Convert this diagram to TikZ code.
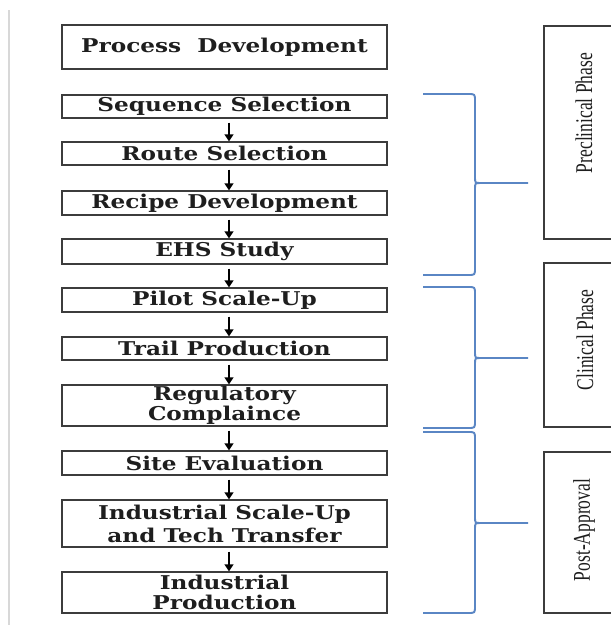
\documentclass[tikz,border=0pt]{standalone}
\usepackage{fontspec}
\setmainfont{Liberation Serif}
\newfontfamily\boxfont{DejaVu Serif}[FakeStretch=1.22]
\usetikzlibrary{arrows.meta}
\definecolor{boxline}{HTML}{3C3C3C}
\definecolor{txtcol}{HTML}{1E1E1E}
\definecolor{bracecol}{HTML}{5A86C4}
\definecolor{leftline}{HTML}{D8D8D8}
\tikzset{
  stepbox/.style={draw=boxline, line width=1.4pt, minimum width=325pt, inner sep=0pt,
    font=\boxfont\bfseries\fontsize{19}{20}\selectfont, text=txtcol, align=center},
  phaseframe/.style={draw=boxline, line width=1.4pt},
  phaselbl/.style={font=\fontsize{24}{26}\selectfont, text=txtcol, inner sep=0pt},
  arr/.style={-{Triangle[length=7pt,width=9pt]}, line width=1.4pt, draw=black, shorten <=4pt},
  brc/.style={draw=bracecol, line width=1.9pt},
}
\begin{document}
\begin{tikzpicture}[x=1pt,y=-1pt]
\fill[white] (0,0) rectangle (611,625);
\useasboundingbox (0,0) rectangle (611,625);
\draw[leftline, line width=1.8pt] (9,10) -- (9,625);
% step boxes
\node[stepbox, minimum height=44pt] (s0) at (224.5,47) {Process\ \ Development};
\node[stepbox, minimum height=23pt] (s1) at (224.5,106.5) {Sequence Selection};
\node[stepbox, minimum height=23pt] (s2) at (224.5,153.5) {Route Selection};
\node[stepbox, minimum height=24pt] (s3) at (224.5,203) {Recipe Development};
\node[stepbox, minimum height=25pt] (s4) at (224.5,251.5) {EHS Study};
\node[stepbox, minimum height=24pt] (s5) at (224.5,300) {Pilot Scale-Up};
\node[stepbox, minimum height=23pt] (s6) at (224.5,348.5) {Trail Production};
\node[stepbox, minimum height=41pt] (s7) at (224.5,405.5) {Regulatory\\Complaince};
\node[stepbox, minimum height=24pt] (s8) at (224.5,463) {Site Evaluation};
\node[stepbox, minimum height=47pt, font=\boxfont\bfseries\fontsize{19}{23}\selectfont] (s9) at (224.5,523.5) {Industrial Scale-Up\\and Tech Transfer};
\node[stepbox, minimum height=41pt] (s10) at (224.5,592.5) {Industrial\\Production};
% arrows
\foreach \a/\b in {s1/s2,s2/s3,s3/s4,s4/s5,s5/s6,s6/s7,s7/s8,s8/s9,s9/s10}{
  \draw[arr] ([xshift=4.5pt]\a.south) -- ([xshift=4.5pt]\b.north);
}
% braces
\foreach \t/\c/\b in {94/183/275, 287/358/428, 432/523/613}{
  \draw[brc] (423,\t) -- (468,\t) .. controls (475,\t) .. (475,\t+7) -- (475,\c-6)
     .. controls (475,\c) .. (481,\c) -- (528,\c);
  \draw[brc] (481,\c) .. controls (475,\c) .. (475,\c+6) -- (475,\b-7)
     .. controls (475,\b) .. (468,\b) -- (423,\b);
}
% phase frames
\draw[phaseframe] (612,26) -- (544,26) -- (544,239) -- (612,239);
\draw[phaseframe] (612,263) -- (544,263) -- (544,427) -- (612,427);
\draw[phaseframe] (612,452) -- (544,452) -- (544,613) -- (612,613);
\node[phaselbl, rotate=90] (p1) at (584,113) {\scalebox{0.73}[1]{Preclinical Phase}};
\node[phaselbl, rotate=90] (p2) at (585,340) {\scalebox{0.73}[1]{Clinical Phase}};
\node[phaselbl, rotate=90] (p3) at (584,530) {\scalebox{0.73}[1]{Post-Approval}};
\end{tikzpicture}
\end{document}
